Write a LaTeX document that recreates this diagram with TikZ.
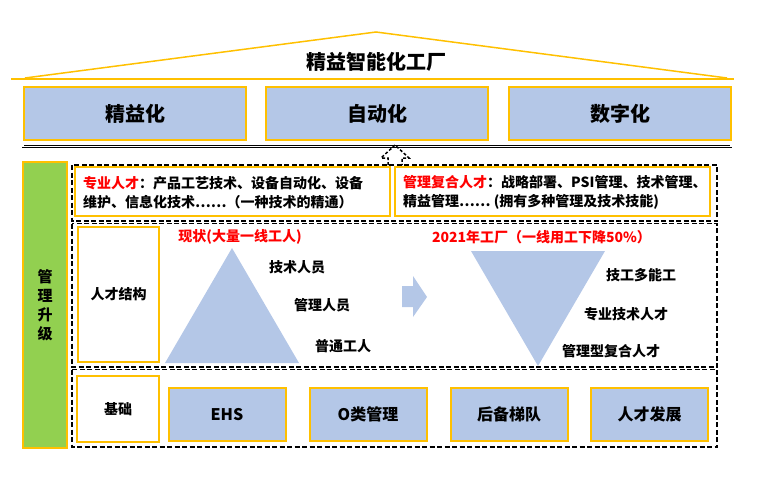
\documentclass[tikz,border=0pt]{standalone}
\usepackage{fontspec}
\setmainfont{Noto Sans CJK SC}
\definecolor{huang}{HTML}{FFC000}
\definecolor{lan}{HTML}{B4C7E7}
\definecolor{lv}{HTML}{92D050}
\begin{document}
\begin{tikzpicture}[x=1pt,y=-1pt,
    kuang/.style={draw=huang,line width=2pt,fill=lan,inner sep=0pt,font=\fontsize{16}{16}\selectfont\bfseries},
    baikuang/.style={kuang,fill=white,font=\fontsize{14}{14}\selectfont\bfseries},
    xukuang/.style={draw=black,line width=1.6pt,dash pattern=on 5pt off 2.5pt},
    wz/.style={font=\fontsize{14}{19}\selectfont\bfseries,inner sep=0pt}]
\useasboundingbox (0,0) rectangle (759,480);
% roof
\draw[huang,line width=1.5pt](25,78)--(376,32)--(727,78);
\draw[huang,line width=2.5pt](11,79)--(734,79);
\node[font=\fontsize{20}{20}\selectfont\bfseries] (gc) at (376,62){精益智能化工厂};
\foreach \x/\t/\n in {135/精益化/jy,377/自动化/zd,620/数字化/sz}
{
    \node[kuang,minimum width=222pt,minimum height=53pt,font=\fontsize{20}{20}\selectfont\bfseries] (\n) at (\x,113.5){\t};
}
\draw[line width=.5pt,double,double distance=1.2pt](23,141)--(23,146.5)--(731,146.5)--(731,141);
\coordinate (jian) at (395,145);
\draw[line width=1.5pt,dash pattern=on 3pt off 2pt](388,165)--(388,158)--(381,158)--(jian)--(409,158)--(402,158)--(402,165);
% left bar
\node[draw=huang,line width=1.5pt,fill=lv,minimum width=44pt,minimum height=286pt,inner sep=0pt,
      align=center,font=\fontsize{15}{19}\selectfont\bfseries] (sj) at (45,305){管\\理\\升\\级};
\draw[xukuang](72,165) rectangle (717,221);
\draw[xukuang](72,223.5) rectangle (717,367);
\draw[xukuang](72,369.5) rectangle (717,447);
% talents
\node[baikuang,minimum width=315pt,minimum height=49pt] (zy) at (232.5,191.5){};
\node[baikuang,minimum width=315pt,minimum height=49pt] (gl) at (552.5,191.5){};
\node[wz,anchor=west,align=left] (zyt) at (83,192.5){\textcolor{red}{专业人才}：产品工艺技术、设备自动化、设备\\维护、信息化技术……（一种技术的精通）};
\node[wz,anchor=west,align=left] (glt) at (403,192.5){\textcolor{red}{管理复合人才}：战略部署、PSI管理、技术管理、\\精益管理…… (拥有多种管理及技术技能)};
% structure
\node[baikuang,minimum width=81pt,minimum height=135pt] (jg) at (118.5,294.5){人才结构};
\node[wz,red] (xz) at (240,237){现状(大量一线工人)};
\fill[lan](232,248)--(299,363)--(165,363)--cycle;
\foreach \x/\y/\t/\n in {297/267/技术人员/a1,322/305/管理人员/a2,343/346/普通工人/a3}
{
    \node[wz] (\n) at (\x,\y){\t};
}
\fill[lan](402,286)--(413,286)--(413,276)--(427,297)--(413,317)--(413,307)--(402,307)--cycle;
\node[wz,red] (gc21) at (541.5,237){2021年工厂（一线用工下降50\%）};
\fill[lan](471,251)--(605,251)--(538,366)--cycle;
\foreach \x/\y/\t/\n in {641/275/技工多能工/b1,626/314/专业技术人才/b2,611/351/管理型复合人才/b3}
{
    \node[wz] (\n) at (\x,\y){\t};
}
% base
\node[baikuang,minimum width=82pt,minimum height=66pt] (jc) at (118,409){基础};
\foreach \x/\t/\n in {227/EHS/c1,368/O类管理/c2,509/后备梯队/c3,649.5/人才发展/c4}
{
    \node[kuang,minimum width=117pt,minimum height=53pt] (\n) at (\x,414.5){\t};
}
\end{tikzpicture}
\end{document}
